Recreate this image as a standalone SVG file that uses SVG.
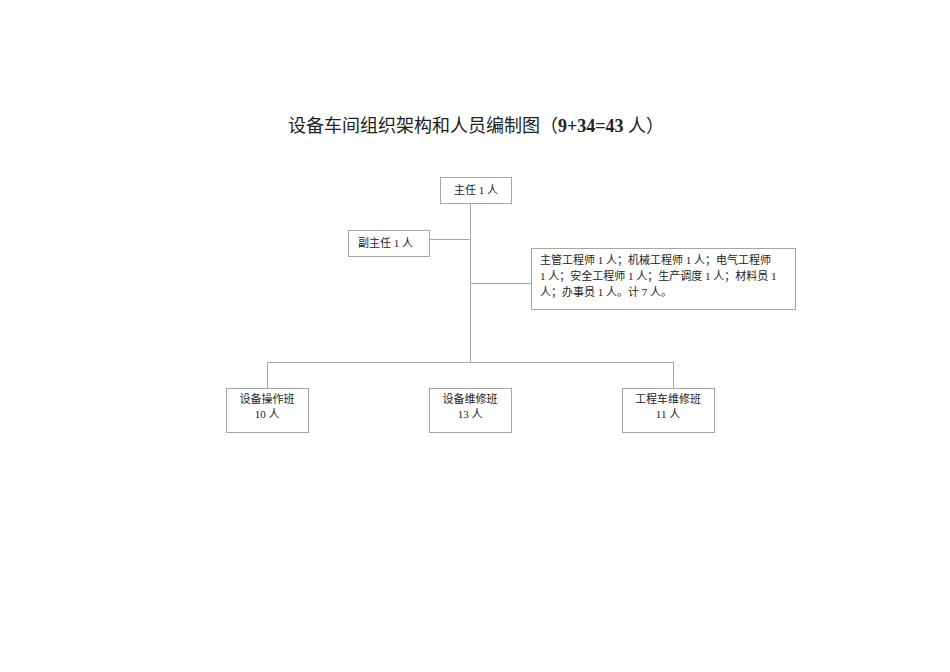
<svg xmlns="http://www.w3.org/2000/svg" width="950" height="672" viewBox="0 0 950 672">
<style>
.b{fill:#fff;stroke:#a6a6a6;stroke-width:1}
.l{stroke:#a6a6a6;stroke-width:1;fill:none}
text{font-family:"Liberation Serif","Noto Sans CJK SC",serif;font-size:11px;fill:#222}
.c{text-anchor:middle}
.t{font-size:18px}
</style>
<rect width="950" height="672" fill="#fff"/>
<text class="t" x="288" y="132">设备车间组织架构和人员编制图（<tspan font-weight="bold">9+34=43</tspan> 人）</text>
<g id="connectors">
<path class="l" d="M470.5 203V362M429 239.5H470.5M470.5 283.5H531M267.5 362.5H673.5M267.5 362V388M673.5 362V388"/>
</g>
<g id="n1"><rect class="b" x="440.5" y="177.5" width="71" height="26"/><text class="c" x="476" y="194">主任 1 人</text></g>
<g id="n2"><rect class="b" x="348.5" y="230.5" width="81" height="26"/><text x="358" y="247">副主任 1 人</text></g>
<g id="n3"><rect class="b" x="531.5" y="248.5" width="264" height="61"/>
<text x="540" y="264">主管工程师 1 人；机械工程师 1 人；电气工程师</text>
<text x="540" y="280">1 人；安全工程师 1 人；生产调度 1 人；材料员 1</text>
<text x="540" y="296">人；办事员 1 人。计 7 人。</text></g>
<g id="n4"><rect class="b" x="226.5" y="388.5" width="82" height="44"/><text class="c" x="267" y="403">设备操作班</text><text class="c" x="267" y="418" font-size="12">10 人</text></g>
<g id="n5"><rect class="b" x="429.5" y="388.5" width="82" height="44"/><text class="c" x="470" y="403">设备维修班</text><text class="c" x="470" y="418" font-size="12">13 人</text></g>
<g id="n6"><rect class="b" x="622.5" y="388.5" width="92" height="44"/><text class="c" x="668" y="403">工程车维修班</text><text class="c" x="668" y="418" font-size="12">11 人</text></g>
</svg>
